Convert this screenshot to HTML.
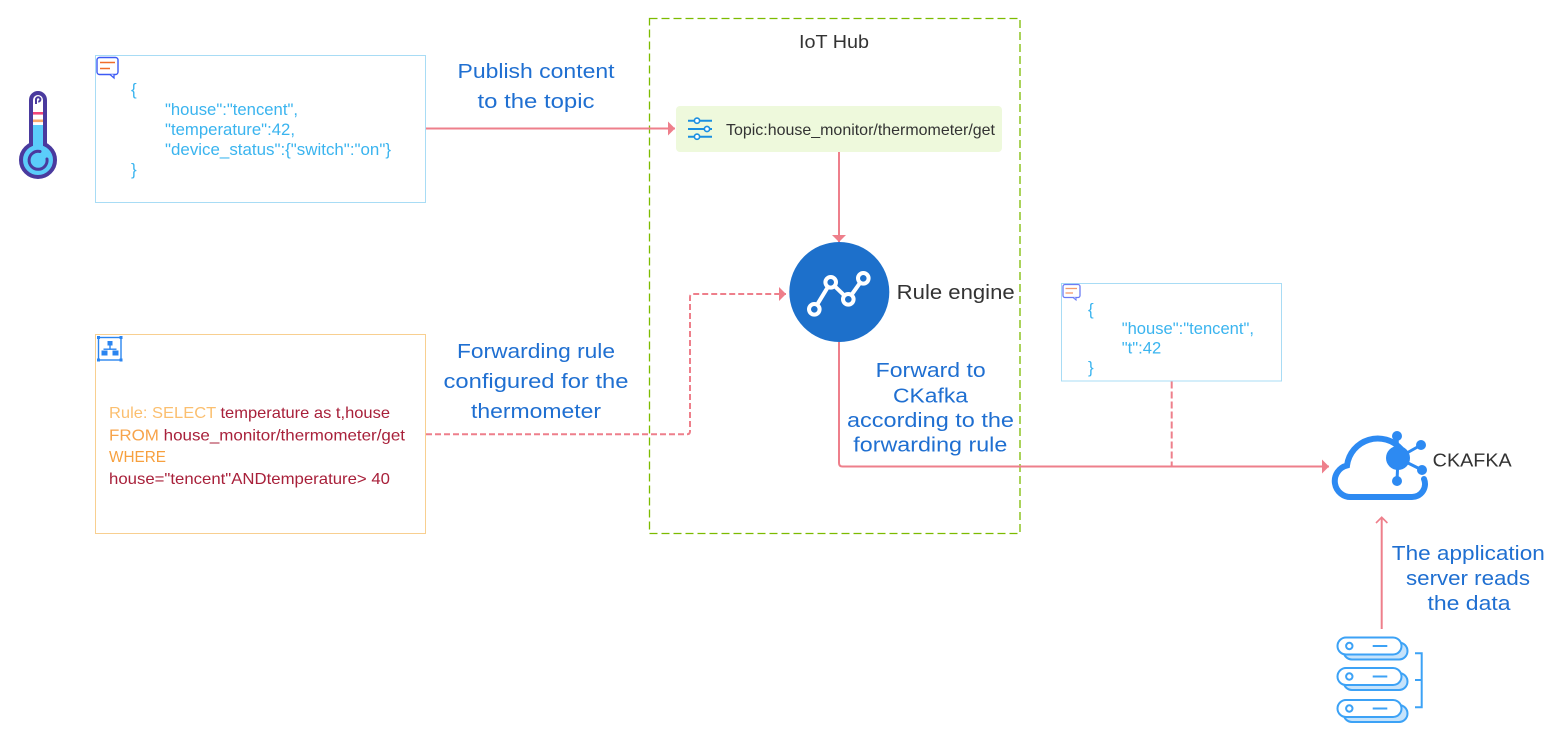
<!DOCTYPE html>
<html>
<head>
<meta charset="utf-8">
<style>
  html,body{margin:0;padding:0;background:#fff;}
  body{width:1549px;height:729px;overflow:hidden;}
  svg{display:block;}
  text{font-family:"Liberation Sans", Arial, sans-serif;}
</style>
</head>
<body>
<svg width="1549" height="729" viewBox="0 0 1549 729" xmlns="http://www.w3.org/2000/svg">
  <defs>
    <marker id="ah" markerWidth="8" markerHeight="14" refX="7" refY="7" orient="auto" markerUnits="userSpaceOnUse">
      <path d="M0,0 L7,7 L0,14 Z" fill="#ee7f8b"/>
    </marker>
  </defs>

  <!-- IoT Hub dashed container -->
  <rect x="649.5" y="18.5" width="370.5" height="515" fill="none" stroke="#7cbb00" stroke-width="1.3" stroke-dasharray="8,4"/>
  <text x="799" y="48" font-size="18" fill="#333" textLength="70" lengthAdjust="spacingAndGlyphs">IoT Hub</text>

  <!-- Thermometer -->
  <g>
    <rect x="31" y="93" width="14" height="34" fill="#fff"/>
    <rect x="31" y="125" width="14" height="26" fill="#5bcdfa"/>
    <circle cx="38" cy="160" r="17" fill="#5bcdfa" stroke="#4a3a9e" stroke-width="4"/>
    <rect x="33" y="138" width="10" height="10" fill="#5bcdfa"/>
    <path d="M31,145 L31,100 A7,7 0 0 1 45,100 L45,145" fill="none" stroke="#4a3a9e" stroke-width="4"/>
    <rect x="33" y="112" width="10" height="2.6" fill="#f0457a"/>
    <rect x="33" y="119.5" width="10" height="2.6" fill="#f9a86b"/>
    <path d="M36,104 V99.5 a2.2,2.2 0 0 1 4.4,0 a2,2 0 0 1 -2.2,2" fill="none" stroke="#4a3a9e" stroke-width="2"/>
    <path d="M40,151.5 A9,9 0 1 0 47,159" fill="none" stroke="#4a3a9e" stroke-width="3" stroke-linecap="round"/>
  </g>

  <!-- JSON box 1 -->
  <rect x="95.5" y="55.5" width="330" height="147" fill="#fff" stroke="#a8dcf5" stroke-width="1"/>
  <g>
    <rect x="97" y="57.5" width="21" height="17" rx="2.5" fill="#fff" stroke="#3d5bf5" stroke-width="1.4"/>
    <path d="M110,74.5 L114,78 L114,74.5" fill="#fff" stroke="#3d5bf5" stroke-width="1.3"/>
    <line x1="100" y1="62.5" x2="115" y2="62.5" stroke="#f06d2a" stroke-width="1.5"/>
    <line x1="100" y1="68.5" x2="110" y2="68.5" stroke="#f06d2a" stroke-width="1.5"/>
  </g>
  <g font-size="17" fill="#3ab4ef">
    <text x="131" y="95">{</text>
    <text x="165" y="115" textLength="133" lengthAdjust="spacingAndGlyphs">"house":"tencent",</text>
    <text x="165" y="135" textLength="130" lengthAdjust="spacingAndGlyphs">"temperature":42,</text>
    <text x="165" y="155" textLength="226" lengthAdjust="spacingAndGlyphs">"device_status":{"switch":"on"}</text>
    <text x="131" y="175">}</text>
  </g>

  <!-- Publish arrow -->
  <line x1="426" y1="128.5" x2="675" y2="128.5" stroke="#ee7f8b" stroke-width="2" marker-end="url(#ah)"/>
  <g font-size="20" fill="#1f6fd1" text-anchor="middle">
    <text x="536" y="78" textLength="157" lengthAdjust="spacingAndGlyphs">Publish content</text>
    <text x="536" y="108" textLength="117" lengthAdjust="spacingAndGlyphs">to the topic</text>
  </g>

  <!-- Topic box -->
  <rect x="676" y="106" width="326" height="46" rx="4" fill="#eef9dc"/>
  <g stroke="#1b8fe0" stroke-width="2" fill="#fff">
    <line x1="688" y1="120.7" x2="712" y2="120.7"/>
    <line x1="688" y1="129" x2="712" y2="129"/>
    <line x1="688" y1="136.7" x2="712" y2="136.7"/>
    <circle cx="697" cy="120.7" r="2.6" stroke-width="1.6"/>
    <circle cx="707" cy="129" r="2.6" stroke-width="1.6"/>
    <circle cx="697" cy="136.7" r="2.6" stroke-width="1.6"/>
  </g>
  <text x="726" y="135" font-size="16" fill="#333" textLength="269" lengthAdjust="spacingAndGlyphs">Topic:house_monitor/thermometer/get</text>

  <!-- Topic -> rule engine -->
  <line x1="839" y1="152" x2="839" y2="242" stroke="#ee7f8b" stroke-width="2" marker-end="url(#ah)"/>

  <!-- Rule engine -->
  <circle cx="839.3" cy="292" r="50" fill="#1d70cb"/>
  <g stroke="#fff" stroke-width="4" fill="none" stroke-linejoin="round">
    <polyline points="814.3,309.3 830.7,282.3 848.3,299.3 863.3,278.3"/>
  </g>
  <g fill="#1d70cb" stroke="#fff" stroke-width="4">
    <circle cx="814.3" cy="309.3" r="5.3"/>
    <circle cx="830.7" cy="282.3" r="5.3"/>
    <circle cx="848.3" cy="299.3" r="5.3"/>
    <circle cx="863.3" cy="278.3" r="5.3"/>
  </g>
  <text x="896.7" y="299" font-size="20" fill="#333" textLength="118" lengthAdjust="spacingAndGlyphs">Rule engine</text>

  <!-- Rule box -->
  <rect x="95.5" y="334.5" width="330" height="199" fill="#fff" stroke="#f8cf90" stroke-width="1"/>
  <g>
    <rect x="98.5" y="337.5" width="22.5" height="22.5" fill="none" stroke="#2b85f0" stroke-width="1.4"/>
    <rect x="97" y="336" width="3" height="3" fill="#2b85f0"/>
    <rect x="119.5" y="336" width="3" height="3" fill="#2b85f0"/>
    <rect x="97" y="358.5" width="3" height="3" fill="#2b85f0"/>
    <rect x="119.5" y="358.5" width="3" height="3" fill="#2b85f0"/>
    <rect x="107.5" y="341" width="5" height="4.5" fill="#2b85f0"/>
    <rect x="109.3" y="345" width="1.4" height="4" fill="#2b85f0"/>
    <rect x="103.5" y="348.5" width="13" height="1.4" fill="#2b85f0"/>
    <rect x="101.5" y="350.5" width="6" height="5" fill="#2b85f0"/>
    <rect x="112.5" y="350.5" width="6" height="5" fill="#2b85f0"/>
  </g>
  <g font-size="16">
    <text x="109" y="418" textLength="281" lengthAdjust="spacingAndGlyphs"><tspan fill="#fbbf6f">Rule: SELECT </tspan><tspan fill="#a8203a">temperature as t,house</tspan></text>
    <text x="109" y="440.5" textLength="296" lengthAdjust="spacingAndGlyphs"><tspan fill="#f7a34a">FROM </tspan><tspan fill="#a8203a">house_monitor/thermometer/get</tspan></text>
    <text x="109" y="462" fill="#f7a03e" textLength="57" lengthAdjust="spacingAndGlyphs">WHERE</text>
    <text x="109" y="484" fill="#a8203a" textLength="281" lengthAdjust="spacingAndGlyphs">house="tencent"ANDtemperature&gt; 40</text>
  </g>

  <!-- Dashed rule arrow -->
  <path d="M426,434.3 L687,434.3 Q690,434.3 690,431.3 L690,297 Q690,294 693,294 L786,294" fill="none" stroke="#ee7f8b" stroke-width="2" stroke-dasharray="6,3" marker-end="url(#ah)"/>
  <g font-size="20" fill="#1f6fd1" text-anchor="middle">
    <text x="536" y="358" textLength="158" lengthAdjust="spacingAndGlyphs">Forwarding rule</text>
    <text x="536" y="388" textLength="185" lengthAdjust="spacingAndGlyphs">configured for the</text>
    <text x="536" y="418" textLength="130" lengthAdjust="spacingAndGlyphs">thermometer</text>
  </g>

  <!-- Forward line -->
  <path d="M839,342 L839,463 Q839,466.5 842.5,466.5 L1329,466.5" fill="none" stroke="#ee7f8b" stroke-width="2" marker-end="url(#ah)"/>
  <g font-size="20" fill="#1f6fd1" text-anchor="middle">
    <text x="930.7" y="377" textLength="110" lengthAdjust="spacingAndGlyphs">Forward to</text>
    <text x="930.5" y="402.5" textLength="75" lengthAdjust="spacingAndGlyphs">CKafka</text>
    <text x="930.5" y="427" textLength="167" lengthAdjust="spacingAndGlyphs">according to the</text>
    <text x="930.3" y="451.7" textLength="154" lengthAdjust="spacingAndGlyphs">forwarding rule</text>
  </g>

  <!-- JSON box 2 -->
  <rect x="1061.5" y="283.5" width="220" height="97.5" fill="#fff" stroke="#a8dcf5" stroke-width="1"/>
  <g>
    <rect x="1063" y="284.5" width="17" height="13" rx="2" fill="#fff" stroke="#6b7cf5" stroke-width="1.3"/>
    <path d="M1073,297.5 L1076,300 L1076,297.5" fill="#fff" stroke="#6b7cf5" stroke-width="1.1"/>
    <line x1="1065.5" y1="288.5" x2="1077" y2="288.5" stroke="#f39a6c" stroke-width="1.3"/>
    <line x1="1065.5" y1="293" x2="1073" y2="293" stroke="#f39a6c" stroke-width="1.3"/>
  </g>
  <g font-size="17" fill="#3ab4ef">
    <text x="1088" y="315">{</text>
    <text x="1121.7" y="334" textLength="132.3" lengthAdjust="spacingAndGlyphs">"house":"tencent",</text>
    <text x="1121.7" y="353.5" textLength="39.5" lengthAdjust="spacingAndGlyphs">"t":42</text>
    <text x="1088" y="373">}</text>
  </g>
  <line x1="1171.7" y1="381.5" x2="1171.7" y2="466" stroke="#ee7f8b" stroke-width="2" stroke-dasharray="7,3"/>

  <!-- CKAFKA icon -->
  <g fill="none" stroke="#2d8af2" stroke-width="6" stroke-linecap="round">
    <path d="M1352,497 A16,16 0 0 1 1347,465.5 A31,31 0 0 1 1401,449"/>
    <path d="M1424,479 A13,13 0 0 1 1412,497 L1352,497"/>
  </g>
  <g stroke="#2d8af2" stroke-width="3">
    <line x1="1398" y1="458" x2="1397" y2="436"/>
    <line x1="1398" y1="458" x2="1421" y2="445"/>
    <line x1="1398" y1="458" x2="1422" y2="470"/>
    <line x1="1398" y1="458" x2="1397" y2="481"/>
  </g>
  <g fill="#2d8af2">
    <circle cx="1398" cy="458" r="12"/>
    <circle cx="1397" cy="436" r="5"/>
    <circle cx="1421" cy="445" r="5"/>
    <circle cx="1422" cy="470" r="5"/>
    <circle cx="1397" cy="481" r="5"/>
  </g>
  <text x="1432.7" y="466.7" font-size="18" fill="#333" textLength="79" lengthAdjust="spacingAndGlyphs">CKAFKA</text>

  <!-- Server -> CKAFKA arrow -->
  <line x1="1381.7" y1="629" x2="1381.7" y2="518" stroke="#ee7f8b" stroke-width="2"/>
  <polyline points="1376,523 1381.7,517.3 1387.4,523" fill="none" stroke="#ee7f8b" stroke-width="1.6"/>
  <g font-size="20" fill="#1f6fd1" text-anchor="middle">
    <text x="1468.3" y="560" textLength="153" lengthAdjust="spacingAndGlyphs">The application</text>
    <text x="1468" y="585" textLength="124" lengthAdjust="spacingAndGlyphs">server reads</text>
    <text x="1469" y="610" textLength="83" lengthAdjust="spacingAndGlyphs">the data</text>
  </g>

  <!-- Server icon -->
  <g stroke="#3ca2f6" stroke-width="2">
    <rect x="1343.5" y="642.5" width="64" height="17" rx="8.5" fill="#c6e3fb"/>
    <rect x="1337.5" y="637.5" width="64" height="17" rx="8.5" fill="#fff"/>
    <circle cx="1349.3" cy="646" r="3.2" fill="#fff"/>
    <line x1="1372.7" y1="646" x2="1387.3" y2="646"/>

    <rect x="1343.5" y="673" width="64" height="17" rx="8.5" fill="#c6e3fb"/>
    <rect x="1337.5" y="668" width="64" height="17" rx="8.5" fill="#fff"/>
    <circle cx="1349.3" cy="676.5" r="3.2" fill="#fff"/>
    <line x1="1372.7" y1="676.5" x2="1387.3" y2="676.5"/>

    <rect x="1343.5" y="705" width="64" height="17" rx="8.5" fill="#c6e3fb"/>
    <rect x="1337.5" y="700" width="64" height="17" rx="8.5" fill="#fff"/>
    <circle cx="1349.3" cy="708.5" r="3.2" fill="#fff"/>
    <line x1="1372.7" y1="708.5" x2="1387.3" y2="708.5"/>

    <polyline points="1415,653.3 1421.7,653.3 1421.7,707.3 1415,707.3" fill="none"/>
    <line x1="1415" y1="680" x2="1421.7" y2="680"/>
  </g>
</svg>
</body>
</html>
